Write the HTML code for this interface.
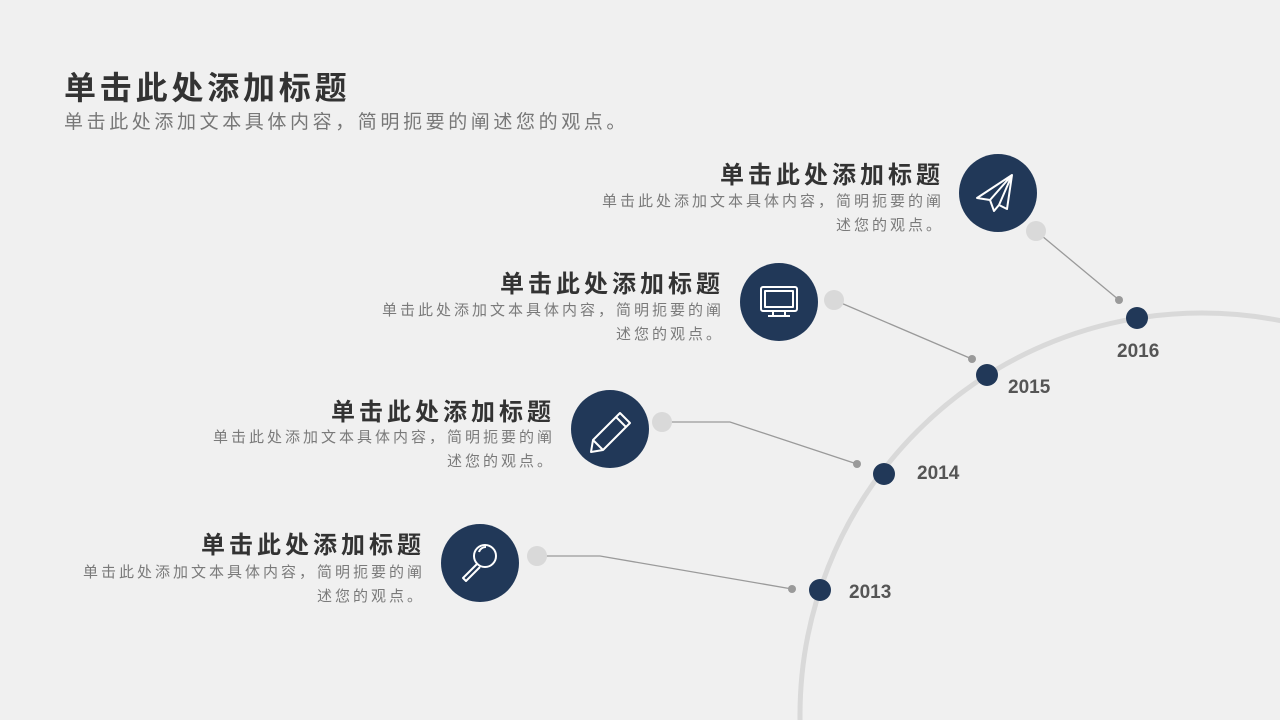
<!DOCTYPE html>
<html style="overflow:hidden"><head><meta charset="utf-8"><style>
html,body{margin:0;width:1280px;height:720px;overflow:hidden}
body{background:#f0f0f0;font-family:"Liberation Sans","Noto Sans CJK SC",sans-serif;position:relative}
.t{position:absolute;white-space:nowrap}
.h{font-weight:bold;color:#333;font-size:24px;letter-spacing:4px}
.d{color:#7a7a7a;font-size:15px;line-height:24px;text-align:right;letter-spacing:3px}
.y{font-weight:bold;color:#555;font-size:19px}
</style></head><body>
<div style="position:absolute;left:0;top:0;width:1280px;height:720px;overflow:hidden">
<svg width="1280" height="720" viewBox="0 0 1280 720" style="display:block">
<circle cx="1202" cy="715" r="402" fill="none" stroke="#d9d9d9" stroke-width="5"/>
<g stroke="#9a9a9a" stroke-width="1.3" fill="none">
<polyline points="1036,231 1119,300"/>
<polyline points="834,300 972,359"/>
<polyline points="662,422 730,422 857,464"/>
<polyline points="537,556 600,556 792,589"/>
</g>
<g fill="#d9d9d9"><circle cx="1036" cy="231" r="10"/><circle cx="834" cy="300" r="10"/><circle cx="662" cy="422" r="10"/><circle cx="537" cy="556" r="10"/></g>
<g fill="#9a9a9a"><circle cx="1119" cy="300" r="4"/><circle cx="972" cy="359" r="4"/><circle cx="857" cy="464" r="4"/><circle cx="792" cy="589" r="4"/></g>
<g fill="#213858"><circle cx="1137" cy="318" r="11"/><circle cx="987" cy="375" r="11"/><circle cx="884" cy="474" r="11"/><circle cx="820" cy="590" r="11"/>
<circle cx="998" cy="193" r="39"/><circle cx="779" cy="302" r="39"/><circle cx="610" cy="429" r="39"/><circle cx="480" cy="563" r="39"/></g>
<g stroke="#fff" stroke-width="2" fill="none" stroke-linejoin="round">
<path d="M1012,175 L977,198 L990,200 L994,211 L999,205 L1007,209 Z M1012,175 L990,200 M1012,175 L999,205"/>
<rect x="761" y="287" width="36" height="24" rx="2"/><rect x="765" y="291" width="28" height="16"/><path d="M773,311 v4 M785,311 v4 M768,316 h22"/>
<path d="M620,413 L630,423 L603,450 L591,452 L593,440 Z M593,440 L603,450 M616,417 L626,427"/>
<circle cx="485" cy="556" r="11"/><path d="M477,564 L463,578 L466,581 L480,567"/><path d="M479,552 a7,7 0 0 1 7,-5"/>
</g>
</svg>
</div>
<div class="t" style="left:64px;top:63px;font-size:32px;font-weight:bold;color:#333;letter-spacing:3.8px">单击此处添加标题</div>
<div class="t" style="left:64px;top:107px;font-size:19px;color:#777;letter-spacing:3.6px">单击此处添加文本具体内容，简明扼要的阐述您的观点。</div>

<div class="t h" style="right:336px;top:155px">单击此处添加标题</div>
<div class="t d" style="right:336px;top:190px">单击此处添加文本具体内容，简明扼要的阐<br>述您的观点。</div>
<div class="t h" style="right:556px;top:264px">单击此处添加标题</div>
<div class="t d" style="right:556px;top:299px">单击此处添加文本具体内容，简明扼要的阐<br>述您的观点。</div>
<div class="t h" style="right:725px;top:392px">单击此处添加标题</div>
<div class="t d" style="right:725px;top:426px">单击此处添加文本具体内容，简明扼要的阐<br>述您的观点。</div>
<div class="t h" style="right:855px;top:525px">单击此处添加标题</div>
<div class="t d" style="right:855px;top:561px">单击此处添加文本具体内容，简明扼要的阐<br>述您的观点。</div>

<div class="t y" style="left:1117px;top:341px">2016</div>
<div class="t y" style="left:1008px;top:377px">2015</div>
<div class="t y" style="left:917px;top:463px">2014</div>
<div class="t y" style="left:849px;top:582px">2013</div>
</body></html>
